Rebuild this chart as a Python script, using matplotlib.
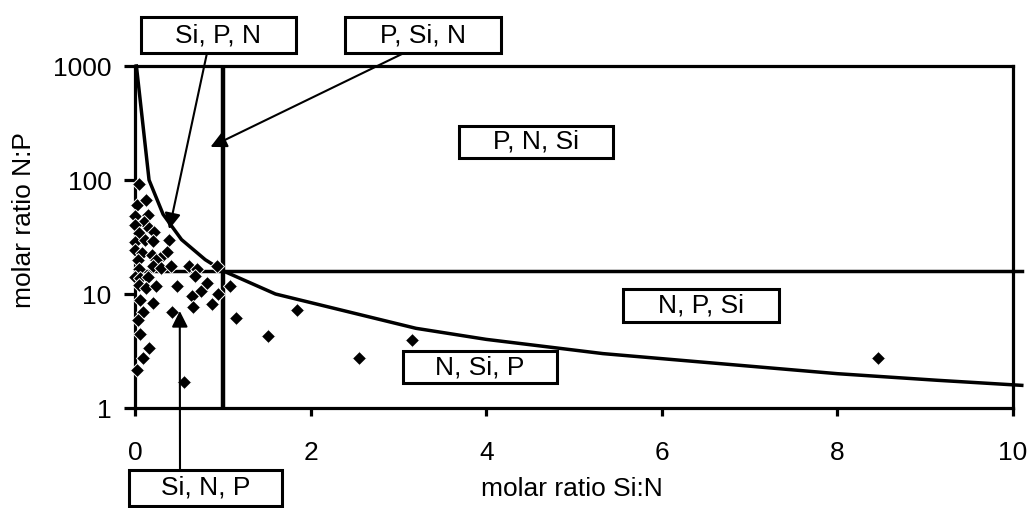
import numpy as np
import matplotlib
matplotlib.use('Agg')
from matplotlib import pyplot as plt
from matplotlib.patches import Rectangle

plt.rcParams['font.family'] = ['Liberation Sans', 'DejaVu Sans']

# Redfield boundary lines: N:P = 16, Si:N = 1 and Si:P = 16
redfield_np = 16
redfield_sin = 1
curve_sin = [0.016, 0.16, 0.32, 0.53, 0.8, 1.0, 1.6, 3.2, 4.0, 5.33, 8.0, 9.14, 10.1]
curve_np = [1000, 100, 50, 30, 20, 16, 10, 5, 4, 3, 2, 1.75, 1.58]

# samples (Si:N, N:P)
si_n = [0.04, 0.02, 0.13, 0.0, 0.15, 0.10, 0.0, 0.05, 0.16, 0.22,
        0.0, 0.11, 0.21, 0.39, 0.0, 0.08, 0.19, 0.36, 0.28, 0.24,
        0.03, 0.21, 0.30, 0.41, 0.62, 0.71, 0.93, 0.04, 0.0, 0.06,
        0.15, 0.68, 0.04, 0.13, 0.24, 0.48, 0.75, 0.82, 0.95, 1.08,
        0.65, 0.06, 0.21, 0.66, 0.88, 0.09, 0.42, 1.15, 0.03, 0.06,
        0.16, 0.09, 0.02, 0.56, 1.51, 1.85, 2.55, 3.15, 8.46]
n_p = [92, 60, 67, 48, 49, 43, 40, 34.5, 37.7, 35,
       28.8, 30, 29, 30, 24.3, 22.7, 22, 23.5, 20.5, 19.9,
       19.9, 17.6, 16.8, 17.6, 17.6, 16.5, 17.6, 16.5, 14.1, 13.7,
       14.0, 14.4, 12.0, 11.2, 11.7, 11.7, 10.7, 12.4, 10.1, 11.7,
       9.6, 8.9, 8.3, 7.7, 8.2, 7.0, 7.0, 6.2, 5.9, 4.5,
       3.33, 2.73, 2.15, 1.7, 4.28, 7.2, 2.74, 3.95, 2.73]

xticks = [0, 2, 4, 6, 8, 10]
yticks = [1, 10, 100, 1000]

FS = 19
W, H = 1031, 508
fig = plt.figure(figsize=(W / 100, H / 100), dpi=100)
ax = fig.add_axes([135 / W, 1 - 408 / H, (1013 - 135) / W, (408 - 66) / H])

ax.set_yscale('log')
ax.set_xlim(0, 10)
ax.set_ylim(1, 1000)

lw = 2.5
ax.plot(curve_sin, curve_np, color='black', lw=lw, clip_on=False, zorder=2)
ax.plot([redfield_sin, redfield_sin], [1, 1000], color='black', lw=3.2, zorder=2)
ax.plot([0, 10.1], [redfield_np, redfield_np], color='black', lw=lw, clip_on=False, zorder=2)

ax.plot(si_n, n_p, ls='none', marker='D', ms=6.8, mfc='black', mec='white',
        mew=0.7, clip_on=False, zorder=3)

ax.set_xticks(xticks)
ax.set_yticks(yticks)
ax.set_yticklabels([str(t) for t in yticks])
ax.yaxis.set_minor_locator(matplotlib.ticker.NullLocator())
ax.tick_params(axis='both', direction='out', width=2.3, labelsize=FS, color='black')
ax.tick_params(axis='y', length=8, pad=9)
ax.tick_params(axis='x', length=6, pad=17.5)
for s in ax.spines.values():
    s.set_linewidth(2.3)

fig.text(572 / W, 1 - 489 / H, 'molar ratio Si:N', fontsize=FS, ha='center', va='center')
fig.text(24 / W, 1 - 220 / H, 'molar ratio N:P', fontsize=FS, ha='center', va='center',
         rotation=90)


def fig_px(x, y):
    return x / W, 1 - y / H


def label_box(x0, y0, x1, y1, text):
    fx0, fy1 = fig_px(x0, y1)
    fx1, fy0 = fig_px(x1, y0)
    fig.patches.append(Rectangle((fx0, fy1), fx1 - fx0, fy0 - fy1, transform=fig.transFigure,
                                 fill=True, facecolor='white', edgecolor='black', lw=2.2, zorder=5))
    fig.text((fx0 + fx1) / 2, (fy0 + fy1) / 2, text, ha='center', va='center',
             fontsize=FS, zorder=6)


label_box(141, 17, 296, 53, 'Si, P, N')
label_box(345, 17, 501, 53, 'P, Si, N')
label_box(129, 470, 282, 506, 'Si, N, P')
label_box(459, 126, 613, 158, 'P, N, Si')
label_box(623, 289, 779, 322, 'N, P, Si')
label_box(403, 351, 557, 383, 'N, Si, P')

arrow = dict(arrowstyle='-|>', color='black', lw=1.5, mutation_scale=24, shrinkA=0, shrinkB=0)
ax.annotate('', xy=(0.39, 37), xycoords='data', xytext=(207, H - 53),
            textcoords='figure pixels', arrowprops=arrow, annotation_clip=False)
ax.annotate('', xy=(0.86, 195), xycoords='data', xytext=(404, H - 53),
            textcoords='figure pixels', arrowprops=arrow, annotation_clip=False)
ax.annotate('', xy=(0.51, 7.1), xycoords='data', xytext=(180, H - 470),
            textcoords='figure pixels', arrowprops=arrow, annotation_clip=False)

fig.savefig('out.png', dpi=100)
